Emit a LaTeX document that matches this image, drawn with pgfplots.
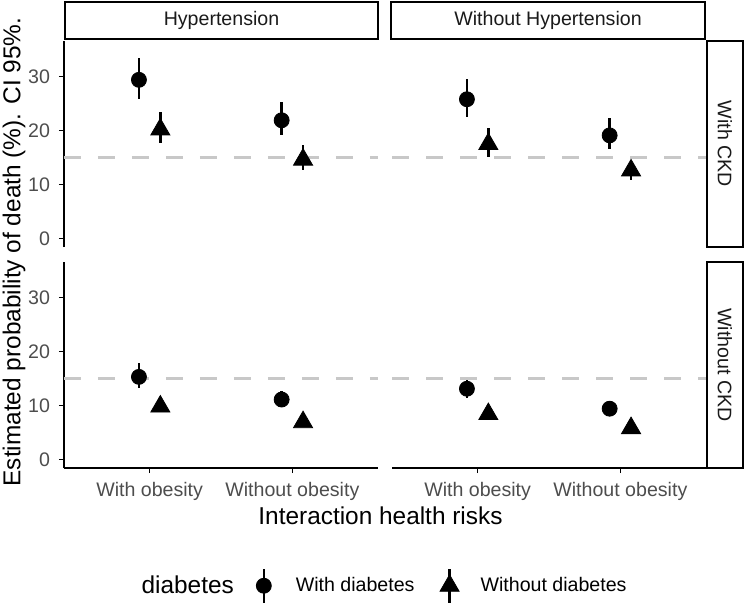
\documentclass[border=0pt]{standalone}
\usepackage{pgfplots}
\pgfplotsset{compat=1.18}
\usepackage{fontspec}
\setmainfont{Liberation Sans}
\definecolor{tickgray}{HTML}{4D4D4D}
\definecolor{hlinegray}{HTML}{C8C8C8}
\definecolor{striptext}{HTML}{1A1A1A}

\pgfplotsset{
  panel/.style={scale only axis, width=157pt, height=103pt,
    xmin=0.4, xmax=2.6, ymin=-1.6, ymax=36.6, anchor=south west,
    xtick={1,2}, xticklabels={With obesity, Without obesity}, ytick={0,10,20,30},
    tick align=outside, major tick length=2.5pt,
    tick style={black, line width=0.6pt},
    axis line style={line width=1pt, black, -},
    ticklabel style={font=\fontsize{9.8}{11}\selectfont, text=tickgray},
    xticklabel style={yshift=-1pt},
    yticklabel style={xshift=-1pt},
    /pgf/number format/assume math mode=true,
    clip=false},
  ckd/.style={forget plot, draw=hlinegray, line width=1.5pt, dash pattern=on 8.5pt off 8.5pt},
  circ/.style={forget plot, black, only marks, mark=*, mark size=3.75pt,
    error bars/.cd, y dir=both, y explicit, error mark=none,
    error bar style={line width=1.2pt, black}},
  tri/.style={forget plot, black, only marks, mark=triangle*, mark size=5.5pt,
    error bars/.cd, y dir=both, y explicit, error mark=none,
    error bar style={line width=1.2pt, black}},
}

\begin{document}
\begin{tikzpicture}
\useasboundingbox (0,0) rectangle (373pt,-301pt);

% Top-left: Hypertension, With CKD
\begin{axis}[panel, at={(32pt,-123.5pt)}, axis x line=none, axis y line*=left]
\addplot[ckd] coordinates {(0.4,15) (2.6,15)};
\addplot[circ] coordinates {(0.925,29.4) += (0,4.0) -= (0,3.6) (1.925,21.9) += (0,3.4) -= (0,2.7)};
\addplot[tri] coordinates {(1.075,20.2) += (0,3.3) -= (0,2.6) (2.075,14.6) += (0,2.7) -= (0,1.9)};
\end{axis}

% Top-right: Without Hypertension, With CKD
\begin{axis}[panel, at={(196pt,-123.5pt)}, axis x line=none, axis y line=none]
\addplot[ckd] coordinates {(0.4,15) (2.6,15)};
\addplot[circ] coordinates {(0.925,25.8) += (0,3.8) -= (0,3.2) (1.925,19.1) += (0,3.2) -= (0,2.5)};
\addplot[tri] coordinates {(1.075,17.5) += (0,2.9) -= (0,2.4) (2.075,12.6) += (0,1.6) -= (0,1.8)};
\end{axis}

% Bottom-left: Hypertension, Without CKD
\begin{axis}[panel, at={(32pt,-234pt)}, axis x line*=bottom, axis y line*=left,
  legend style={draw=none, fill=none, at={(1.013,-0.573)}, anchor=center,
    legend columns=-1, font=\fontsize{9.8}{11}\selectfont,
    /tikz/every odd column/.append style={column sep=2pt},
    /tikz/every even column/.append style={column sep=8pt}}]
\addplot[ckd] coordinates {(0.4,15) (2.6,15)};
\addplot[circ] coordinates {(0.925,15.3) += (0,2.5) -= (0,2.1) (1.925,11.1) += (0,1.5) -= (0,1.4)};
\addplot[tri] coordinates {(1.075,9.8) += (0,1.2) -= (0,1.0) (2.075,6.9) += (0,0.7) -= (0,0.6)};
\addlegendimage{empty legend}
\addlegendentry{\fontsize{12.2}{14}\selectfont diabetes}
\addlegendimage{legend image code/.code={
  \path[draw=none, fill=none] (0pt,-8.5pt) rectangle (17pt,8.5pt);
  \draw[black, line width=1.2pt] (5pt,-8.5pt) -- (5pt,8.2pt);
  \fill[black] (5pt,0pt) circle (3.75pt);}}
\addlegendentry{With diabetes}
\addlegendimage{legend image code/.code={
  \path[draw=none, fill=none] (0pt,-8.5pt) rectangle (19pt,8.5pt);
  \draw[black, line width=1.2pt] (7.5pt,-8.5pt) -- (7.5pt,8.2pt);
  \fill[black] (7.5pt,5.5pt) -- (2.74pt,-2.75pt) -- (12.26pt,-2.75pt) -- cycle;}}
\addlegendentry{Without diabetes}
\end{axis}

% Bottom-right: Without Hypertension, Without CKD
\begin{axis}[panel, at={(196pt,-234pt)}, axis x line*=bottom, axis y line=none]
\addplot[ckd] coordinates {(0.4,15) (2.6,15)};
\addplot[circ] coordinates {(0.925,13.1) += (0,1.6) -= (0,1.7) (1.925,9.4) += (0,1.4) -= (0,1.2)};
\addplot[tri] coordinates {(1.075,8.4) += (0,1.0) -= (0,0.8) (2.075,5.8) += (0,0.7) -= (0,0.6)};
\end{axis}

% Strips
\begin{scope}[x=0.5pt, y=-0.5pt, line width=1pt]
\draw[black] (65,2) rectangle (378,39);
\draw[black] (391,2) rectangle (705,39);
\node[text=striptext, font=\fontsize{9.8}{11}\selectfont] at (221.5,20.5) {Hypertension};
\node[text=striptext, font=\fontsize{9.8}{11}\selectfont] at (548,20.5) {Without Hypertension};
\draw[black] (707,41) rectangle (743,247);
\draw[black] (707,262) rectangle (743,468);
\node[text=striptext, font=\fontsize{9.8}{11}\selectfont, rotate=-90] at (725,144) {With CKD};
\node[text=striptext, font=\fontsize{9.8}{11}\selectfont, rotate=-90] at (725,365) {Without CKD};
\node[font=\fontsize{12.2}{14}\selectfont, rotate=90] at (14,252) {Estimated probability of death (\%). CI 95\%.};
\node[font=\fontsize{12.2}{14}\selectfont] at (380.5,516) {Interaction health risks};
\end{scope}
\end{tikzpicture}
\end{document}
